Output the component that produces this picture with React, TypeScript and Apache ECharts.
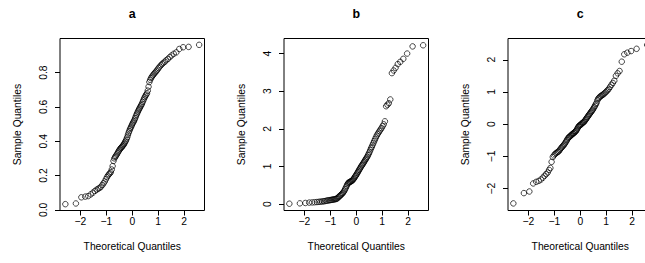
import React, { useEffect, useRef } from "react";
import * as echarts from "echarts";

// Theoretical normal quantiles for n = 100 (qnorm((i - 0.5) / 100))
const theoreticalQuantiles = [
  -2.5758, -2.1701, -1.96, -1.8119, -1.6954, -1.5982, -1.5141, -1.4395, -1.3722, -1.3106,
  -1.2536, -1.2004, -1.1503, -1.1031, -1.0581, -1.0152, -0.9741, -0.9346, -0.8965, -0.8596,
  -0.8239, -0.7892, -0.7554, -0.7225, -0.6903, -0.6588, -0.628, -0.5978, -0.5681, -0.5388,
  -0.5101, -0.4817, -0.4538, -0.4261, -0.3989, -0.3719, -0.3451, -0.3186, -0.2924, -0.2663,
  -0.2404, -0.2147, -0.1891, -0.1637, -0.1383, -0.113, -0.0878, -0.0627, -0.0376, -0.0125,
  0.0125, 0.0376, 0.0627, 0.0878, 0.113, 0.1383, 0.1637, 0.1891, 0.2147, 0.2404,
  0.2663, 0.2924, 0.3186, 0.3451, 0.3719, 0.3989, 0.4261, 0.4538, 0.4817, 0.5101,
  0.5388, 0.5681, 0.5978, 0.628, 0.6588, 0.6903, 0.7225, 0.7554, 0.7892, 0.8239,
  0.8596, 0.8965, 0.9346, 0.9741, 1.0152, 1.0581, 1.1031, 1.1503, 1.2004, 1.2536,
  1.3106, 1.3722, 1.4395, 1.5141, 1.5982, 1.6954, 1.8119, 1.96, 2.1701, 2.5758,
];

const sampleA = [
  0.033, 0.037, 0.073, 0.077, 0.08, 0.09, 0.1, 0.11, 0.117, 0.123,
  0.128, 0.135, 0.145, 0.155, 0.165, 0.178, 0.19, 0.2, 0.207, 0.213,
  0.22, 0.235, 0.255, 0.285, 0.3, 0.308, 0.315, 0.322, 0.33, 0.338,
  0.345, 0.352, 0.358, 0.362, 0.367, 0.372, 0.377, 0.383, 0.39, 0.398,
  0.405, 0.415, 0.425, 0.438, 0.45, 0.46, 0.47, 0.478, 0.486, 0.495,
  0.503, 0.51, 0.517, 0.525, 0.535, 0.545, 0.555, 0.563, 0.572, 0.58,
  0.588, 0.595, 0.603, 0.61, 0.618, 0.628, 0.638, 0.648, 0.657, 0.665,
  0.672, 0.68, 0.695, 0.718, 0.745, 0.758, 0.768, 0.776, 0.783, 0.79,
  0.797, 0.803, 0.81, 0.818, 0.827, 0.835, 0.843, 0.85, 0.857, 0.864,
  0.872, 0.88, 0.89, 0.9, 0.91, 0.918, 0.938, 0.948, 0.95, 0.962,
];

const sampleB = [
  0.01, 0.02, 0.03, 0.04, 0.045, 0.05, 0.055, 0.06, 0.065, 0.07,
  0.075, 0.08, 0.09, 0.095, 0.1, 0.105, 0.11, 0.115, 0.12, 0.125,
  0.13, 0.135, 0.14, 0.16, 0.18, 0.2, 0.22, 0.24, 0.26, 0.28,
  0.3, 0.33, 0.36, 0.4, 0.44, 0.48, 0.52, 0.55, 0.57, 0.58,
  0.59, 0.6, 0.61, 0.62, 0.64, 0.66, 0.68, 0.71, 0.74, 0.76,
  0.79, 0.82, 0.85, 0.88, 0.91, 0.94, 0.97, 1.0, 1.03, 1.05,
  1.08, 1.11, 1.14, 1.17, 1.2, 1.23, 1.26, 1.3, 1.34, 1.38,
  1.43, 1.48, 1.52, 1.57, 1.62, 1.67, 1.72, 1.77, 1.82, 1.86,
  1.9, 1.94, 1.98, 2.02, 2.07, 2.12, 2.2, 2.6, 2.64, 2.68,
  2.78, 3.48, 3.55, 3.62, 3.72, 3.78, 3.86, 4.0, 4.19, 4.22,
];

const sampleC = [
  -2.46, -2.14, -2.09, -1.84, -1.79, -1.76, -1.72, -1.66, -1.6, -1.55,
  -1.5, -1.42, -1.36, -1.17, -1.02, -0.97, -0.93, -0.9, -0.88, -0.86,
  -0.84, -0.8, -0.76, -0.73, -0.7, -0.67, -0.64, -0.61, -0.57, -0.53,
  -0.49, -0.45, -0.42, -0.4, -0.38, -0.36, -0.34, -0.32, -0.3, -0.29,
  -0.27, -0.25, -0.23, -0.21, -0.18, -0.14, -0.1, -0.07, -0.05, -0.03,
  -0.02, 0.0, 0.02, 0.04, 0.05, 0.07, 0.09, 0.12, 0.15, 0.18,
  0.21, 0.24, 0.27, 0.3, 0.33, 0.36, 0.39, 0.42, 0.45, 0.49,
  0.53, 0.57, 0.62, 0.66, 0.74, 0.79, 0.82, 0.85, 0.87, 0.89,
  0.91, 0.93, 0.96, 0.99, 1.02, 1.06, 1.1, 1.16, 1.22, 1.28,
  1.35, 1.5, 1.58, 1.65, 1.94, 2.17, 2.22, 2.27, 2.34, 2.46,
];

const panelTitles = ["a", "b", "c"];
const xTicks = [-2, -1, 0, 1, 2];
const yTicksA = [0, 0.2, 0.4, 0.6, 0.8];
const yTicksB = [0, 1, 2, 3, 4];
const yTicksC = [-2, -1, 0, 1, 2];
const xLabel = "Theoretical Quantiles";
const yLabel = "Sample Quantiles";

const FONT = "Liberation Sans, Arial, Helvetica, sans-serif";

const fmtSigned = (v: number) => (v < 0 ? "\u2212" + Math.abs(v) : String(v));

export default function App() {
  const ref = useRef<HTMLDivElement>(null);
  useEffect(() => {
    if (!ref.current) return;
    const chart = echarts.init(ref.current, null, { renderer: "svg" });

    const panels = [
      { sample: sampleA, yTicks: yTicksA, yMin: -0.004, yMax: 0.999, fmt: (v: number) => v.toFixed(1) },
      { sample: sampleB, yTicks: yTicksB, yMin: -0.17, yMax: 4.4, fmt: (v: number) => String(v) },
      { sample: sampleC, yTicks: yTicksC, yMin: -2.68, yMax: 2.66, fmt: fmtSigned },
    ];
    const lefts = [60, 284, 508];
    const top = 38.5;
    const width = 144.5;
    const height = 172;

    const textStyle = { color: "#000", fontFamily: FONT, fontSize: 10.3 };

    const option: any = {
      animation: false,
      backgroundColor: "#fff",
      grid: lefts.map((l) => ({
        left: l,
        top,
        width,
        height,
        show: true,
        borderColor: "#000",
        borderWidth: 1,
        backgroundColor: "transparent",
        containLabel: false,
        outerBoundsMode: "none",
      })),
      xAxis: panels.map((_, i) => ({
        type: "value",
        gridIndex: i,
        min: -2.782,
        max: 2.782,
        name: xLabel,
        nameLocation: "middle",
        nameGap: 31,
        nameTextStyle: { ...textStyle, verticalAlign: "top" },
        axisLine: { show: false, onZero: false },
        axisTick: {
          show: true,
          inside: false,
          length: 5,
          customValues: xTicks,
          lineStyle: { color: "#000", width: 1 },
        },
        axisLabel: {
          ...textStyle,
          margin: 6,
          customValues: xTicks,
          formatter: fmtSigned,
        },
        splitLine: { show: false },
      })),
      yAxis: panels.map((p, i) => ({
        type: "value",
        gridIndex: i,
        min: p.yMin,
        max: p.yMax,
        name: yLabel,
        nameLocation: "middle",
        nameRotate: 90,
        nameGap: 38,
        nameTextStyle: { ...textStyle },
        axisLine: { show: false, onZero: false },
        axisTick: {
          show: true,
          inside: false,
          length: 5,
          customValues: p.yTicks,
          lineStyle: { color: "#000", width: 1 },
        },
        axisLabel: {
          ...textStyle,
          margin: 12,
          rotate: 90,
          customValues: p.yTicks,
          formatter: p.fmt,
        },
        splitLine: { show: false },
      })),
      series: panels.map((p, i) => ({
        type: "scatter",
        xAxisIndex: i,
        yAxisIndex: i,
        symbol: "circle",
        symbolSize: 5.5,
        itemStyle: { color: "rgba(255,255,255,0)", borderColor: "#000", borderWidth: 0.9 },
        data: theoreticalQuantiles.map((x, k) => [x, p.sample[k]]),
        clip: true,
      })),
      graphic: panelTitles.map((t, i) => ({
        type: "text",
        x: lefts[i] + width / 2,
        y: 14,
        style: {
          text: t,
          fill: "#000",
          font: `bold 12.4px ${FONT}`,
          textAlign: "center",
          textVerticalAlign: "middle",
        },
      })),
    };

    chart.setOption(option);
    return () => chart.dispose();
  }, []);

  return (
    <div
      ref={ref}
      style={{ position: "fixed", left: 0, top: 0, width: 645, height: 263 }}
    />
  );
}
